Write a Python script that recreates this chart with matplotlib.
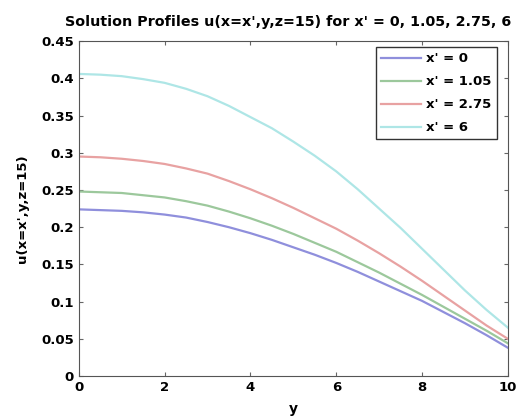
import matplotlib
matplotlib.use("Agg")
from matplotlib import pyplot as plt

# y 좌표 (0~10, 0.5 간격)
ys = [0, 0.5, 1, 1.5, 2, 2.5, 3, 3.5, 4, 4.5, 5, 5.5, 6, 6.5, 7, 7.5, 8, 8.5, 9, 9.5, 10]

# x' 값별 해 프로파일
u_x0 = [0.224, 0.223, 0.222, 0.220, 0.217, 0.213, 0.207, 0.200, 0.192, 0.183, 0.173,
        0.163, 0.152, 0.140, 0.127, 0.114, 0.101, 0.086, 0.071, 0.055, 0.038]
u_x105 = [0.248, 0.247, 0.246, 0.243, 0.240, 0.235, 0.229, 0.221, 0.212, 0.202, 0.191,
          0.179, 0.167, 0.153, 0.139, 0.124, 0.109, 0.093, 0.077, 0.061, 0.044]
u_x275 = [0.295, 0.294, 0.292, 0.289, 0.285, 0.279, 0.272, 0.262, 0.251, 0.239, 0.226,
          0.212, 0.198, 0.182, 0.165, 0.147, 0.128, 0.108, 0.088, 0.068, 0.050]
u_x6 = [0.406, 0.405, 0.403, 0.399, 0.394, 0.386, 0.376, 0.363, 0.348, 0.333, 0.315,
        0.296, 0.275, 0.251, 0.225, 0.199, 0.171, 0.143, 0.115, 0.089, 0.065]

labels = ["x' = 0", "x' = 1.05", "x' = 2.75", "x' = 6"]
colors = ["#8f8fdc", "#9cc89c", "#e8a2a2", "#aee6e6"]

plt.rcParams['font.family'] = ['DejaVu Sans']
plt.rcParams['font.weight'] = 'bold'

fig = plt.figure(figsize=(5.22, 4.16), dpi=100)
ax = fig.add_axes([0.151, 0.096, 0.822, 0.805])

for vals, lab, c in zip([u_x0, u_x105, u_x275, u_x6], labels, colors):
    ax.plot(ys, vals, color=c, linewidth=1.6, label=lab)

ax.set_xlim(0, 10)
ax.set_ylim(0, 0.45)
ax.set_xticks([0, 2, 4, 6, 8, 10])
ax.set_yticks([0, 0.05, 0.1, 0.15, 0.2, 0.25, 0.3, 0.35, 0.4, 0.45])
ax.set_yticklabels(['0', '0.05', '0.1', '0.15', '0.2', '0.25', '0.3', '0.35', '0.4', '0.45'])
ax.tick_params(direction='in', top=True, right=True, labelsize=9.5, color='#666666', length=3)
for sp in ax.spines.values():
    sp.set_color('#555555')

# 제목은 약간 왼쪽으로 치우쳐 있음
ax.set_title("Solution Profiles u(x=x',y,z=15) for x' = 0, 1.05, 2.75, 6",
             fontsize=10.3, fontweight='bold', pad=11, x=0.488)
ax.set_ylabel("u(x=x',y,z=15)", fontsize=9.5, fontweight='bold', labelpad=9)
ax.set_xlabel("y", fontsize=10, fontweight='bold', labelpad=6)

leg = ax.legend(loc='upper right', bbox_to_anchor=(1 - 11 / 429, 1 - 6 / 335),
                borderaxespad=0, fancybox=False, framealpha=1, edgecolor='#333333',
                fontsize=9.5, handlelength=3.0, handletextpad=0.4,
                labelspacing=0.75, borderpad=0.4)

fig.savefig("out.png", dpi=100)
